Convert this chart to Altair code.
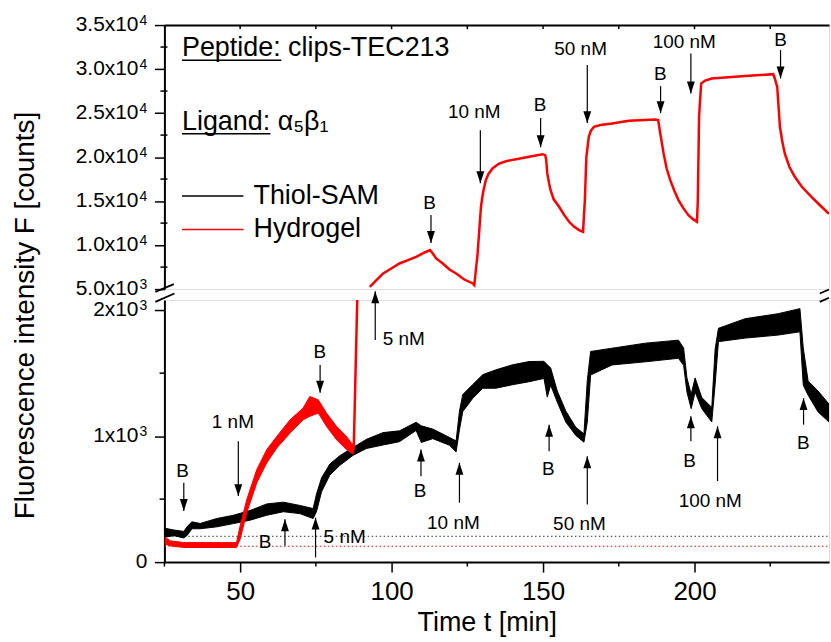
import altair as alt
import pandas as pd

X_DOMAIN = [25, 244.4]

# ---------------- data ----------------
# Thiol-SAM (black), noisy band: time, lower edge, upper edge  [counts]
sam_t = [25.3, 28.1, 31.4, 32.5, 34.1, 36.8, 42.3, 47.8, 53.3, 58.8, 64.3, 69.7, 74.1, 75.2, 76.9,
         79.6, 82.9, 87.3, 91.7, 97.2, 102.6, 108.1, 109.8, 113.6, 119.1, 121.3, 122.4, 123.5, 126.8,
         130.1, 134.4, 139.9, 145.4, 150.3, 151.4, 152.5, 154.7, 157.5, 160.8, 163.5, 164.6, 165.7,
         172.8, 183.8, 194.7, 196.4, 197.5, 198.9, 200.2, 202.4, 205.7, 206.8, 207.9, 216.7, 227.6,
         234.8, 235.9, 237.5, 240.8, 244.4]
sam_lo = [198, 210, 192, 212, 265, 265, 280, 306, 333, 372, 400, 385, 346, 400, 560,
          690, 768, 848, 902, 930, 956, 1045, 950, 980, 928, 875, 1050, 1195, 1300,
          1380, 1380, 1408, 1432, 1458, 1310, 1405, 1270, 1112, 1006, 952, 1110, 1485,
          1565, 1590, 1618, 1562, 1350, 1218, 1350, 1218, 1112, 1410, 1750, 1778, 1802,
          1828, 1405, 1325, 1192, 1112]
sam_hi = [268, 255, 244, 282, 320, 307, 346, 372, 410, 462, 476, 450, 425, 540, 670,
          778, 845, 910, 975, 1028, 1042, 1110, 1082, 1056, 990, 962, 1198, 1330, 1410,
          1488, 1526, 1566, 1592, 1594, 1566, 1542, 1358, 1200, 1070, 1018, 1440, 1672,
          1698, 1738, 1762, 1700, 1462, 1332, 1462, 1306, 1228, 1690, 1856, 1932, 1972,
          2012, 1700, 1438, 1358, 1254]

# Hydrogel (red), low-range part (noisy band)
gel_low_t = [25.3, 27.0, 31.4, 40.1, 48.8, 50.0, 52.2, 55.5, 58.8, 62.1, 66.5, 70.8, 73.0,
             75.8, 78.5, 81.8, 85.1, 86.7, 87.5]
gel_low_lo = [142, 129, 116, 116, 116, 182, 393, 630, 788, 906, 1025, 1130, 1157,
              1183, 1078, 972, 893, 867, 860]
gel_low_hi = [195, 169, 155, 155, 155, 287, 498, 735, 893, 998, 1130, 1223, 1315,
              1288, 1183, 1078, 998, 946, 930]
# Hydrogel steep jump at 5 nM
gel_jump_t = [87.5, 88.7]
gel_jump_v = [895, 2120]
# Hydrogel, high-range part
gel_top_t = [92.8, 95.0, 97.2, 99.9, 102.6, 105.4, 108.1, 110.9, 112.7, 113.6, 114.7, 116.9, 119.1,
             121.3, 124.0, 126.8, 127.3, 128.4, 129.5, 130.2, 131.1, 132.0, 133.3, 135.5, 138.0,
             142.0, 145.4, 149.8, 150.7, 151.0, 151.4, 152.0, 152.5, 153.5, 155.3, 157.0, 158.6,
             160.2, 161.9, 163.2, 163.8, 164.3, 165.1, 165.8, 166.8, 169.0, 172.8, 178.3, 187.1,
             188.0, 188.7, 189.8, 190.8, 192.0, 193.3, 194.7, 196.3, 198.0, 199.5, 200.8, 201.1,
             201.5, 202.2, 203.5, 205.7, 216.7, 226.0, 226.5, 227.3, 228.2, 229.0, 229.8, 231.3,
             233.1, 235.5, 238.6, 241.5, 244.4]
gel_top_v = [5262, 6020, 6777, 7345, 7913, 8290, 8670, 9160, 9430, 9050, 8480, 7913, 7230,
             6777, 6090, 5640, 5450, 9050, 14350, 16000, 17380, 18100, 18710, 19270, 19550,
             19800, 20030, 20330, 20220, 19800, 18140, 17000, 16240, 15200, 14350, 13400, 12650,
             12100, 11700, 11510, 15110, 20030, 22300, 23000, 23440, 23650, 23820, 24120, 24270,
             24200, 22680, 20410, 18700, 17380, 16200, 15110, 14200, 13400, 12950, 12650, 15110,
             24580, 28360, 28700, 28930, 29200, 29420, 28930, 27980, 23440, 21700, 20410, 18900,
             17760, 16600, 15490, 14500, 13550]

# baselines (dotted)
base_names = ["Thiol-SAM", "Hydrogel"]
base_v = [205, 126]

# annotations: upper range (arrows pointing down)
top_arrow_t = [113.0, 129.3, 149.2, 164.6, 188.8, 198.8, 228.4]
top_arrow_tail = [13410, 23060, 24430, 30450, 28060, 31770, 32150]
top_arrow_tip = [10230, 17040, 21130, 23860, 24990, 27230, 28940]
top_label = ["B", "10 nM", "B", "50 nM", "B", "100 nM", "B"]
top_label_t = [112.5, 127.3, 149.0, 162.4, 188.7, 196.6, 228.4]
top_label_v = [14770, 25110, 25900, 32230, 29420, 33100, 33290]

# annotations: lower range, arrows pointing down
bd_t = [31.4, 49.4, 76.4]
bd_tail = [630, 959, 1565]
bd_tip = [406, 524, 1344]
bd_label = ["B", "1 nM", "B"]
bd_label_t = [31.0, 47.6, 76.3]
bd_label_v = [722, 1109, 1670]
# annotations: lower range, arrows pointing up
bu_t = [94.6, 64.8, 74.9, 109.7, 122.4, 152.0, 164.6, 198.8, 207.6, 236.0]
bu_tip = [2150, 340, 353, 893, 788, 1091, 840, 1157, 1078, 1302]
bu_tail = [1763, 129, 37, 682, 472, 880, 458, 959, 643, 1091]
bu_label = ["5 nM", "B", "5 nM", "B", "10 nM", "B", "50 nM", "B", "100 nM", "B"]
bu_label_t = [104.0, 58.2, 84.5, 109.4, 120.4, 151.7, 162.0, 198.4, 205.2, 235.9]
bu_label_v = [1768, 156, 203, 564, 314, 735, 300, 801, 485, 946]

# info text and legend (upper range)
info_text = ["Peptide: clips-TEC213", "Ligand: α₅β₁"]
info_t = [30.8, 30.8]
info_v = [31470, 23060]
underline_t1 = [63.6, 60.0]
underline_v = [31010, 22660]
legend_names = ["Thiol-SAM", "Hydrogel"]
legend_colors = ["#000000", "#ff0000"]
legend_v = [15565, 11780]
legend_t0, legend_t1, legend_text_t = 30.8, 51.1, 54.4

# axis ticks and tick labels (mantissa + exponent)
top_major = [5000, 10000, 15000, 20000, 25000, 30000, 35000]
top_major_text = ["5.0x10", "1.0x10", "1.5x10", "2.0x10", "2.5x10", "3.0x10", "3.5x10"]
top_major_exp = ["3", "4", "4", "4", "4", "4", "4"]
top_minor = [7500, 12500, 17500, 22500, 27500, 32500]
bot_major = [0, 1000, 2000]
bot_major_text = ["0", "1x10", "2x10"]
bot_major_exp = ["", "3", "3"]
bot_minor = [500, 1500]
x_major = [50, 100, 150, 200]
x_minor = [25, 75, 125, 175, 225]
x_top_ticks = [50, 75, 100, 125, 150, 175, 200, 225]

# ---------------- frames ----------------
sam = pd.DataFrame({"t": sam_t, "lo": sam_lo, "hi": sam_hi})
gel_low = pd.DataFrame({"t": gel_low_t, "lo": gel_low_lo, "hi": gel_low_hi})
gel_jump = pd.DataFrame({"t": gel_jump_t, "v": gel_jump_v})
gel_top = pd.DataFrame({"t": gel_top_t, "v": gel_top_v})
base = pd.DataFrame({"name": base_names, "v": base_v, "t0": X_DOMAIN[0], "t1": X_DOMAIN[1]})
top_arr = pd.DataFrame({"t": top_arrow_t, "tail": top_arrow_tail, "tip": top_arrow_tip,
                        "label": top_label, "lt": top_label_t, "lv": top_label_v})
bd = pd.DataFrame({"t": bd_t, "tail": bd_tail, "tip": bd_tip, "label": bd_label,
                   "lt": bd_label_t, "lv": bd_label_v})
bu = pd.DataFrame({"t": bu_t, "tail": bu_tail, "tip": bu_tip, "label": bu_label,
                   "lt": bu_label_t, "lv": bu_label_v})
info = pd.DataFrame({"text": info_text, "t": info_t, "v": info_v,
                     "t1": underline_t1, "uv": underline_v})
legend = pd.DataFrame({"name": legend_names, "color": legend_colors, "v": legend_v,
                       "t0": legend_t0, "t1": legend_t1, "tt": legend_text_t})
top_lab_df = pd.DataFrame({"v": top_major, "txt": top_major_text, "exp": top_major_exp,
                           "t": X_DOMAIN[0]})
bot_lab_df = pd.DataFrame({"v": bot_major, "txt": bot_major_text, "exp": bot_major_exp,
                           "t": X_DOMAIN[0]})

FONT = "Liberation Sans"
W, H_TOP, H_BOT = 667, 265, 263
xs = alt.Scale(domain=X_DOMAIN, nice=False, zero=False)
ys_top = alt.Scale(domain=[5000, 35000], nice=False, zero=False)
ys_bot = alt.Scale(domain=[0, 2080], nice=False, zero=False)

common_axis = dict(grid=False, domainColor="black", tickColor="black", labelColor="black",
                   domainWidth=2, tickWidth=1.5, labelFont=FONT, labelFlush=False,
                   labelOverlap=False)

ax_x_top = alt.Axis(orient="top", labels=False, ticks=False, title=None, **common_axis)
ax_x_bot = alt.Axis(orient="bottom", values=x_major, tickSize=10, labelFontSize=26,
                    labelPadding=7, title="Time t [min]", titleFont=FONT, titleFontSize=27,
                    titleFontWeight="normal", titleColor="black", titlePadding=5,
                    titleX=323.5, **common_axis)
ax_y_top = alt.Axis(values=top_major, tickSize=10, labels=False, title=None, **common_axis)
ax_y_bot = alt.Axis(values=bot_major, tickSize=10, labels=False,
                    title="Fluorescence intensity F [counts]", titleFont=FONT, titleFontSize=28,
                    titleFontWeight="normal", titleColor="black", titleAngle=270,
                    titleX=-131, titleY=15, titleAlign="center", titleBaseline="alphabetic",
                    **common_axis)

DOWN = "M-0.33,-1L0.33,-1L0,0Z"
UP = "M-0.33,1L0.33,1L0,0Z"


def tick_labels(df, xx, yy):
    """Y tick labels with a raised exponent, anchored on the tick values."""
    main = alt.Chart(df).transform_filter("datum.exp != ''").mark_text(
        font=FONT, fontSize=21, color="black", align="right", baseline="middle", dx=-26
    ).encode(x=xx("t"), y=yy("v"), text="txt:N")
    expo = alt.Chart(df).transform_filter("datum.exp != ''").mark_text(
        font=FONT, fontSize=14, color="black", align="left", baseline="alphabetic", dx=-25, dy=0
    ).encode(x=xx("t"), y=yy("v"), text="exp:N")
    plain = alt.Chart(df).transform_filter("datum.exp == ''").mark_text(
        font=FONT, fontSize=21, color="black", align="right", baseline="middle", dx=-17
    ).encode(x=xx("t"), y=yy("v"), text="txt:N")
    return [main, expo, plain]


# ---------------- upper panel ----------------
txf = lambda f: alt.X(f, type="quantitative", scale=xs, axis=ax_x_top)
ty = lambda f: alt.Y(f, type="quantitative", scale=ys_top, axis=ax_y_top)

top_line = alt.Chart(gel_top).mark_line(color="#ff0000", strokeWidth=2.5, clip=True).encode(
    x=txf("t"), y=ty("v"))
top_minor_df = pd.DataFrame({"v": top_minor, "a": 23.7, "b": 26.0})
top_minor_ticks = alt.Chart(top_minor_df).mark_rule(color="black", strokeWidth=1.5).encode(
    y=ty("v"), x=txf("a"), x2="b:Q")
top_in_df = pd.DataFrame({"t": x_top_ticks, "y0": 35000, "y1": 34540})
top_in_ticks = alt.Chart(top_in_df).mark_rule(color="black", strokeWidth=1.5).encode(
    x=txf("t"), y=ty("y0"), y2="y1:Q")
top_shaft = alt.Chart(top_arr).mark_rule(color="black", strokeWidth=1.2).encode(
    x=txf("t"), y=ty("tail"), y2="tip:Q")
top_head = alt.Chart(top_arr).mark_point(shape=DOWN, filled=True, size=576, color="black",
                                         opacity=1, strokeWidth=0).encode(x=txf("t"), y=ty("tip"))
top_lab = alt.Chart(top_arr).mark_text(font=FONT, fontSize=19, color="black",
                                       baseline="middle", align="center").encode(
    x=txf("lt"), y=ty("lv"), text="label:N")
info_txt = alt.Chart(info).mark_text(font=FONT, fontSize=27, color="black",
                                     baseline="alphabetic", align="left").encode(
    x=txf("t"), y=ty("v"), text="text:N")
info_ul = alt.Chart(info).mark_rule(color="black", strokeWidth=1.5).encode(
    x=txf("t"), x2="t1:Q", y=ty("uv"))
leg_line = alt.Chart(legend).mark_rule(strokeWidth=1.5).encode(
    x=txf("t0"), x2="t1:Q", y=ty("v"), color=alt.Color("color:N", scale=None))
leg_txt = alt.Chart(legend).mark_text(font=FONT, fontSize=27, color="black",
                                      baseline="middle", align="left").encode(
    x=txf("tt"), y=ty("v"), text="name:N")

top = alt.layer(top_in_ticks, top_minor_ticks, top_line, top_shaft, top_head, top_lab,
                info_txt, info_ul, leg_line, leg_txt,
                *tick_labels(top_lab_df, txf, ty)).properties(width=W, height=H_TOP)

# ---------------- lower panel ----------------
bxf = lambda f: alt.X(f, type="quantitative", scale=xs, axis=ax_x_bot)
by = lambda f: alt.Y(f, type="quantitative", scale=ys_bot, axis=ax_y_bot)

dots = alt.Chart(base).mark_rule(strokeWidth=1, strokeDash=[1.5, 2.5]).encode(
    x=bxf("t0"), x2="t1:Q", y=by("v"),
    color=alt.Color("name:N", scale=alt.Scale(domain=base_names, range=["#333333", "#ff0000"]),
                    legend=None))
sam_band = alt.Chart(sam).mark_area(fill="black", stroke="black", strokeWidth=1.0,
                                    clip=True).encode(x=bxf("t"), y=by("lo"), y2="hi:Q")
gel_band = alt.Chart(gel_low).mark_area(fill="#ff0000", stroke="#ff0000", strokeWidth=1.0,
                                        clip=True).encode(x=bxf("t"), y=by("lo"), y2="hi:Q")
gel_rise = alt.Chart(gel_jump).mark_line(color="#ff0000", strokeWidth=2.5, clip=True).encode(
    x=bxf("t"), y=by("v"))
bot_minor_df = pd.DataFrame({"v": bot_minor, "a": 23.4, "b": 25.0})
bot_minor_ticks = alt.Chart(bot_minor_df).mark_rule(color="black", strokeWidth=1.5).encode(
    y=by("v"), x=bxf("a"), x2="b:Q")
x_minor_df = pd.DataFrame({"t": x_minor, "y0": 0, "y1": -35})
x_minor_ticks = alt.Chart(x_minor_df).mark_rule(color="black", strokeWidth=1.5).encode(
    x=bxf("t"), y=by("y0"), y2="y1:Q")
bd_shaft = alt.Chart(bd).mark_rule(color="black", strokeWidth=1.2).encode(
    x=bxf("t"), y=by("tail"), y2="tip:Q")
bd_head = alt.Chart(bd).mark_point(shape=DOWN, filled=True, size=576, color="black",
                                   opacity=1, strokeWidth=0).encode(x=bxf("t"), y=by("tip"))
bu_shaft = alt.Chart(bu).mark_rule(color="black", strokeWidth=1.2).encode(
    x=bxf("t"), y=by("tail"), y2="tip:Q")
bu_head = alt.Chart(bu).mark_point(shape=UP, filled=True, size=576, color="black",
                                   opacity=1, strokeWidth=0).encode(x=bxf("t"), y=by("tip"))
lab_df = pd.concat([bd[["label", "lt", "lv"]], bu[["label", "lt", "lv"]]], ignore_index=True)
bot_lab = alt.Chart(lab_df).mark_text(font=FONT, fontSize=19, color="black",
                                      baseline="middle", align="center").encode(
    x=bxf("lt"), y=by("lv"), text="label:N")

# axis-break marks
brk = pd.DataFrame({"x1": [22.0, 22.0, 241.35, 241.35], "x2": [28.1, 28.3, 244.4, 244.4],
                    "y1": [2145, 2066, 2132, 2066], "y2": [2206, 2132, 2164, 2098]})
breaks = alt.Chart(brk).mark_rule(color="black", strokeWidth=1.8).encode(
    x=bxf("x1"), x2="x2:Q", y=by("y1"), y2="y2:Q")

bottom = alt.layer(dots, x_minor_ticks, bot_minor_ticks, sam_band, gel_band, gel_rise,
                   bd_shaft, bd_head, bu_shaft, bu_head, bot_lab, breaks,
                   *tick_labels(bot_lab_df, bxf, by)).properties(width=W, height=H_BOT)

chart = alt.vconcat(top, bottom, spacing=11, bounds="flush").properties(
    padding={"left": 11, "top": 12, "right": 0, "bottom": 0}
).configure_view(stroke=None).configure(background="white")

chart.save("out.html", embed_options={"renderer": "svg", "actions": False})
